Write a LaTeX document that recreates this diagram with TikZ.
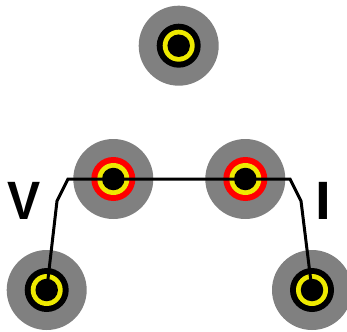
\documentclass[tikz,border=0pt]{standalone}
\usepackage{fontspec}
\setsansfont{Liberation Sans}
\definecolor{padgray}{HTML}{808080}
\definecolor{ringyellow}{HTML}{EEEA00}
\begin{document}
\begin{tikzpicture}[
      x=1pt, y=-1pt,
      pad/.style={circle, fill=padgray, inner sep=0pt, minimum size=80pt},
      collar/.style={circle, fill=#1, inner sep=0pt, minimum size=44pt},
      ring/.style={circle, fill=ringyellow, inner sep=0pt, minimum size=32pt},
      core/.style={circle, fill=black, inner sep=0pt, minimum size=22.5pt},
      wire/.style={draw=black, line width=3pt, line join=miter},
      letter/.style={font=\sffamily\bfseries\fontsize{54}{54}\selectfont, inner sep=0pt}
    ]

    \useasboundingbox (0,0) rectangle (347,331);

    \foreach \name/\px/\py/\tone in {top/178.7/45.7/black, midl/113.3/179/red, midr/245.3/179/red, botl/46.7/290/black, botr/312/290/black} {
      \node[pad] (pad\name) at (\px,\py) {};
      \node[collar=\tone] (collar\name) at (pad\name) {};
      \node[ring] (ring\name) at (pad\name) {};
      \node[core] (\name) at (pad\name) {};
    }

    \coordinate (vbend) at (57,201);
    \coordinate (vtop) at (68,179);
    \coordinate (ibend) at (301,201);
    \coordinate (itop) at (290,179);

    \draw[wire] (botl.center) -- (vbend) -- (vtop) -- (itop) -- (ibend) -- (botr.center);

    \node[letter, xscale=0.92] (vlabel) at (24.5,200.5) {V};
    \node[letter, xscale=1.05] (ilabel) at (323.2,200.5) {I};

    \end{tikzpicture}
\end{document}
